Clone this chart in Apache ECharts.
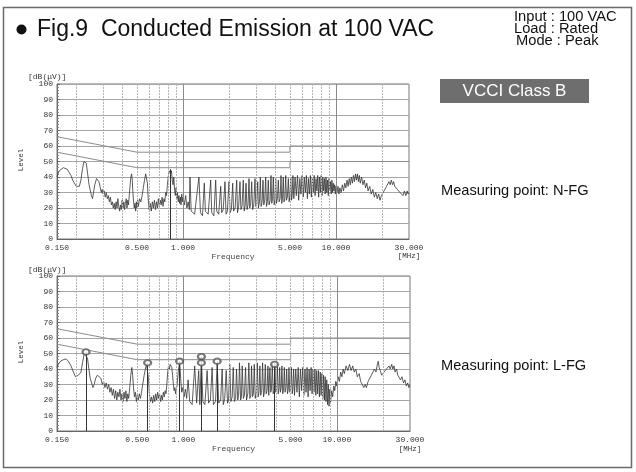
<!DOCTYPE html>
<html><head><meta charset="utf-8">
<script src="https://cdn.jsdelivr.net/npm/echarts@6/dist/echarts.min.js"></script>
<style>html,body{margin:0;padding:0;background:#fff}#c{width:636px;height:472px}</style>
</head><body><div id="c"></div><script>
// ---- data ----
const gridFreqs = [0.2,0.3,0.4,0.5,0.6,0.7,0.8,0.9,1,2,3,4,5,6,7,8,9,10,20];
const majorFreqs = [1,10];
const tickFreqs = [0.15,0.5,1,5,10,30];
const tickLabels = ['0.150','0.500','1.000','5.000','10.000','30.000'];
const qpLimit = [[0.15,66],[0.5,56],[5,56],[5,60],[30,60]];
const avLimit = [[0.15,56],[0.5,46],[5,46],[5,50],[30,50]];

const nfgTrace = [
[0.150,40],[0.152,42],[0.155,44],[0.160,45],[0.165,46],[0.170,46],[0.175,45],[0.180,43],[0.185,41],[0.190,38],[0.195,36],[0.200,34],[0.205,33],[0.210,34],[0.215,38],[0.220,45],[0.225,50],[0.229,51],[0.233,49],[0.238,42],[0.243,35],[0.248,31],[0.252,28],[0.256,26],[0.260,30],[0.265,35],[0.272,39],[0.277,40],[0.282,37],[0.288,33],[0.292,30],[0.296,32],[0.300,29],[0.305,31],[0.310,27],[0.315,30],[0.320,26],[0.325,28],[0.330,24],[0.335,27],[0.340,22],[0.345,24],[0.350,20],[0.355,23],[0.360,19],[0.365,24],[0.370,20],[0.375,26],[0.380,21],[0.385,18],[0.390,22],[0.395,19],[0.400,25],[0.405,20],[0.410,24],[0.415,19],[0.420,23],[0.425,26],[0.430,20],[0.435,25],[0.440,22],[0.445,28],[0.450,34],[0.456,40],[0.461,42],[0.466,38],[0.470,30],[0.475,24],[0.480,20],[0.485,23],[0.490,18],[0.495,24],[0.500,20],[0.505,25],[0.510,21],[0.520,26],[0.530,24],[0.540,28],[0.550,33],[0.560,38],[0.570,42],[0.578,43],[0.585,36],[0.592,26],[0.600,19],[0.610,23],[0.620,18],[0.630,24],[0.640,20],[0.650,25],[0.660,19],[0.670,24],[0.680,20],[0.690,26],[0.700,21],[0.710,25],[0.720,22],[0.730,27],[0.740,21],[0.750,26],[0.760,24],[0.770,30],[0.780,28],[0.790,35],[0.800,40],[0.810,44],[0.820,45],[0.830,42],[0.840,44],[0.850,38],[0.860,35],[0.870,40],[0.880,32],[0.890,28],[0.900,33],[0.910,26],[0.920,30],[0.930,24],[0.940,28],[0.950,23],[0.960,27],[0.970,22],[0.980,29],[0.990,24],[1.000,27],[1.020,22],[1.040,28],[1.060,20],[1.080,24],
[1.10,19],[1.11,40],[1.13,18],[1.19,16],[1.27,40],[1.30,17],[1.34,15],[1.377,36],[1.40,18],[1.46,16],[1.516,38],[1.54,17],[1.59,15],[1.635,38],[1.66,18],[1.71,16],[1.763,34],[1.79,17],[1.83,19],[1.881,37],[1.91,16],[1.95,18],[1.997,37],[2.03,17],[2.07,19],[2.112,36],[2.14,18],[2.19,20],[2.243,38],[2.27,17],[2.31,21],[2.357,37],[2.39,19],[2.43,21],[2.477,38],[2.51,18],[2.55,22],[2.58,36],[2.62,19],[2.66,22],[2.699,39],[2.73,20],[2.77,23],[2.811,37],[2.85,19],[2.90,22],[2.954,39],[2.99,21],[3.03,23],[3.077,37],[3.11,20],[3.16,24],[3.20,40],[3.24,21],[3.29,24],[3.332,38],[3.37,22],[3.42,25],[3.47,40],[3.51,21],[3.56,24],[3.609,38],[3.65,22],[3.71,25],[3.758,41],[3.80,23],[3.85,26],[3.89,40],[3.94,22],[3.99,25],[4.034,39],[4.08,23],[4.14,26],[4.196,38],[4.25,24],[4.31,26],[4.37,41],[4.42,23],[4.47,27],[4.52,40],[4.57,24],[4.63,26],[4.69,41],[4.74,25],[4.81,27],[4.88,39],[4.94,24],[5.00,28],[5.06,40],[5.12,25],[5.17,28],[5.23,41],[5.30,26],
[5.40,40],[5.50,28],[5.60,41],[5.70,25],[5.80,39],[5.90,29],[6.00,41],[6.10,27],[6.20,40],[6.30,30],[6.40,41],[6.50,26],[6.60,39],[6.70,29],[6.80,41],[6.90,27],[7.00,40],[7.10,30],[7.20,41],[7.30,28],[7.40,39],[7.50,31],[7.60,41],[7.70,27],[7.80,40],[7.90,30],[8.00,41],[8.10,28],[8.20,40],[8.30,31],[8.40,39],[8.50,29],[8.60,40],[8.70,30],[8.80,38],[8.90,28],[9.00,39],[9.10,31],[9.20,37],[9.30,29],[9.40,38],[9.50,30],[9.60,36],[9.70,31],[9.80,35],[9.90,29],[10.0,34],
[10.15,30],[10.3,34],[10.45,29],[10.6,33],[10.8,30],[11.0,35],[11.2,31],[11.4,36],[11.6,33],[11.8,38],[12.0,34],[12.2,39],[12.4,35],[12.6,40],[12.8,36],[13.0,41],[13.2,37],[13.4,42],[13.6,38],[13.8,42],[14.0,37],[14.2,41],[14.4,36],[14.7,40],[15.0,35],[15.3,38],[15.6,33],[15.9,36],[16.2,31],[16.6,34],[17.0,29],[17.4,32],[17.8,27],[18.2,30],[18.6,26],[19.0,29],[19.4,25],[19.8,28],[20.2,27],[20.6,31],[21.0,30],[21.4,34],[21.8,33],[22.2,37],[22.6,35],[23.0,38],[23.4,35],[23.8,37],[24.2,34],[24.7,35],[25.2,32],[25.7,33],[26.2,30],[26.8,31],[27.4,28],[28.0,31],[28.6,28],[29.2,31],[29.6,29],[30.0,30]
];

const lfgTrace = [
[0.150,41],[0.153,43],[0.158,45],[0.165,46],[0.172,46.5],[0.178,45],[0.185,42],[0.192,38],[0.198,35],[0.203,34],[0.207,36],[0.211,35],[0.215,38],[0.220,44],[0.226,50],[0.232,51],[0.237,47],[0.242,40],[0.247,34],[0.252,31],[0.257,28],[0.262,30],[0.268,34],[0.275,36],[0.283,37],[0.290,34],[0.296,30],[0.302,32],[0.308,28],[0.314,31],[0.320,27],[0.326,30],[0.332,25],[0.338,28],[0.344,23],[0.350,27],[0.356,21],[0.362,26],[0.368,20],[0.374,25],[0.380,22],[0.386,27],[0.392,20],[0.398,24],[0.404,19],[0.410,25],[0.416,21],[0.422,26],[0.428,19],[0.434,24],[0.440,21],[0.447,28],[0.454,36],[0.461,41],[0.467,36],[0.473,28],[0.480,22],[0.487,25],[0.494,19],[0.500,23],[0.508,20],[0.516,24],[0.525,21],[0.535,26],[0.545,31],[0.555,36],[0.565,40],[0.575,43],[0.585,44],[0.592,34],[0.600,24],[0.610,19],[0.620,22],[0.630,18],[0.640,23],[0.650,19],[0.660,24],[0.670,20],[0.680,25],[0.690,21],[0.700,24],[0.710,19],[0.720,23],[0.730,20],[0.740,25],[0.750,22],[0.760,26],[0.770,24],[0.780,30],[0.790,38],[0.800,42],[0.810,40],[0.820,43],[0.830,44],[0.840,41],[0.850,36],[0.860,30],[0.870,26],[0.880,28],[0.890,24],[0.900,27],[0.910,30],[0.925,38],[0.945,45],[0.960,34],[0.975,25],[0.990,28],[1.010,22],[1.030,27],[1.050,21],
[1.073,33],[1.10,19],[1.14,17],[1.185,42],[1.22,18],[1.258,39],[1.28,17],[1.310,48],[1.34,19],[1.38,17],[1.428,39],[1.46,18],[1.50,20],[1.539,41],[1.57,17],[1.62,19],[1.66,44],[1.70,18],[1.75,20],[1.789,40],[1.82,17],[1.86,21],[1.901,39],[1.94,18],[1.97,20],[2.006,43],[2.04,19],[2.08,22],[2.112,41],[2.15,19],[2.19,21],[2.219,40],[2.26,20],[2.29,23],[2.322,44],[2.36,20],[2.39,22],[2.418,42],[2.46,21],[2.50,23],[2.542,41],[2.58,20],[2.63,24],[2.671,44],[2.71,21],[2.75,23],[2.782,42],[2.82,22],[2.86,24],[2.897,43],[2.94,21],[2.99,25],[3.03,44],[3.07,22],[3.11,25],[3.151,42],[3.19,23],[3.24,26],[3.283,44],[3.33,22],[3.37,25],[3.419,43],[3.46,24],[3.51,26],[3.555,42],[3.60,23],[3.664,41],[3.71,25],[3.75,27],[3.798,43],[3.85,24],[3.90,26],[3.95,44],[4.00,25],[4.05,27],[4.097,42],[4.15,24],[4.20,27],[4.241,41],[4.29,25],[4.34,28],[4.389,42],[4.44,24],[4.50,27],[4.55,41],[4.60,25],[4.66,28],[4.711,40],[4.77,24],[4.83,27],[4.876,41],[4.94,25],[5.00,28],[5.056,41],[5.12,24],[5.17,27],[5.23,40],[5.30,23],
[5.40,40],[5.50,25],[5.60,41],[5.70,22],[5.80,40],[5.90,26],[6.00,41],[6.10,23],[6.20,40],[6.30,25],[6.40,41],[6.50,22],[6.60,40],[6.70,26],[6.80,41],[6.90,24],[7.00,40],[7.10,25],[7.20,40],[7.30,23],[7.40,39],[7.50,24],[7.60,39],[7.70,22],[7.80,38],[7.90,23],[8.00,37],[8.10,21],[8.20,36],[8.30,20],[8.40,35],[8.50,19],[8.60,33],[8.70,17],[8.80,30],[8.90,16],[9.00,27],[9.10,18],[9.25,26],[9.40,22],[9.55,29],[9.70,26],[9.85,32],[10.0,29],
[10.2,35],[10.4,32],[10.6,38],[10.8,35],[11.0,40],[11.2,37],[11.5,42],[11.8,39],[12.1,43],[12.4,39],[12.7,42],[13.0,38],[13.3,40],[13.6,35],[14.0,37],[14.3,32],[14.6,33],[15.0,28],[15.3,30],[15.6,28],[16.0,32],[16.4,31],[16.8,36],[17.2,35],[17.6,40],[18.0,38],[18.3,42],[18.6,45],[18.9,41],[19.2,39],[19.6,36],[19.9,35],[20.3,38],[20.7,37],[21.1,40],[21.5,39],[21.9,42],[22.3,40],[22.8,43],[23.2,40],[23.6,42],[24.0,38],[24.5,40],[25.0,36],[25.5,37],[26.0,33],[26.6,35],[27.2,31],[27.8,33],[28.4,29],[29.0,31],[29.5,28],[30.0,30]
];

const lfgMarkerFreq = [0.232,0.585,0.945,1.31,1.31,1.66,3.93];
const lfgMarkerLevel = [51,44,45,48,44,45,43];
const nfgMarkerFreq = [0.825];
const nfgMarkerLevel = [45];

// ---- chart ----
const mono = 'Liberation Mono';
const chart = echarts.init(document.getElementById('c'), null, {renderer:'canvas'});

function gridLineMarks() {
  return {
    silent:true, symbol:['none','none'], label:{show:false},
    lineStyle:{color:'#b4b4b4', type:[2,1], width:1},
    emphasis:{disabled:true},
    data: gridFreqs.map(f => majorFreqs.includes(f)
      ? {xAxis:f, lineStyle:{color:'#8a8a8a', type:'solid', width:1}}
      : {xAxis:f})
  };
}
function tickLabelMarks() {
  return {
    silent:true, symbol:['none','none'],
    lineStyle:{color:'rgba(0,0,0,0)', width:0},
    emphasis:{disabled:true},
    label:{show:true, position:'start', distance:5, formatter:'{b}', opacity:1,
      fontFamily:mono, fontSize:8, color:'#333'},
    data: tickFreqs.map((f,i) => ({xAxis:f, name:tickLabels[i]}))
  };
}
function markerLines(freqs, levels) {
  return {
    silent:true, symbol:['none','none'], label:{show:false},
    lineStyle:{color:'#333', type:'solid', width:1},
    emphasis:{disabled:true},
    data: freqs.map((f,i) => [{coord:[f,0]},{coord:[f,levels[i]]}])
  };
}

const grids = [
  {left:57, top:84, width:352, height:155},
  {left:57, top:276, width:353, height:155}
];
const traces = [nfgTrace, lfgTrace];

const series = [];
[0,1].forEach(i => {
  series.push({type:'line', xAxisIndex:i, yAxisIndex:i, data:qpLimit, symbol:'none',
    lineStyle:{color:'#8c8c8c', width:1}, silent:true, z:2, markLine:gridLineMarks()});
  series.push({type:'line', xAxisIndex:i, yAxisIndex:i, data:avLimit, symbol:'none',
    lineStyle:{color:'#8c8c8c', width:1}, silent:true, z:2, markLine:tickLabelMarks()});
  series.push({type:'line', xAxisIndex:i, yAxisIndex:i, data:traces[i], symbol:'none',
    lineStyle:{color:'#333', width:0.8}, silent:true, z:3});
});
series.push({type:'scatter', xAxisIndex:1, yAxisIndex:1, symbol:'emptyCircle', symbolSize:[7,5.5],
  data: lfgMarkerFreq.map((f,i)=>[f, lfgMarkerLevel[i]]),
  itemStyle:{color:'#555', borderWidth:0.8}, z:5,
  markLine: markerLines(lfgMarkerFreq, lfgMarkerLevel)});
series.push({type:'line', xAxisIndex:0, yAxisIndex:0, symbol:'none', data:[], z:4, silent:true,
  markLine: markerLines(nfgMarkerFreq, nfgMarkerLevel)});

const txt = (x,y,text,style,extra) => Object.assign({type:'text', x, y, silent:true,
  style:Object.assign({text, fill:'#111', fontFamily:'Liberation Sans'}, style)}, extra||{});

const graphic = [
  {type:'rect', shape:{x:3.5, y:7.5, width:628, height:460}, style:{fill:'none', stroke:'#6a6a6a', lineWidth:1.5}, silent:true},
  {type:'circle', shape:{cx:21.5, cy:29.5, r:5}, style:{fill:'#111'}, silent:true},
  txt(37, 18, 'Fig.9  Conducted Emission at 100 VAC', {fontSize:23, verticalAlign:'top'}),
  txt(514, 10, 'Input : 100 VAC', {fontSize:14, verticalAlign:'top'}, {scaleX:1.05}),
  txt(514, 22, 'Load : Rated', {fontSize:14, verticalAlign:'top'}, {scaleX:1.05}),
  txt(516, 34, 'Mode : Peak', {fontSize:14, verticalAlign:'top'}, {scaleX:1.05}),
  {type:'rect', shape:{x:440, y:79, width:149, height:24}, style:{fill:'#6e6e6e'}, silent:true},
  txt(514.5, 91, 'VCCI Class B', {fontSize:17, fill:'#fff', align:'center', verticalAlign:'middle'}),
  txt(441, 191, 'Measuring point: N-FG', {fontSize:14.6, verticalAlign:'middle'}),
  txt(441, 366, 'Measuring point: L-FG', {fontSize:14.6, verticalAlign:'middle'}),
  txt(28, 77, '[dB(μV)]', {fontSize:8, fontFamily:mono, fill:'#333', verticalAlign:'middle'}),
  txt(28, 270, '[dB(μV)]', {fontSize:8, fontFamily:mono, fill:'#333', verticalAlign:'middle'}),
  txt(21, 160, 'Level', {fontSize:7.5, fontFamily:mono, fill:'#333', align:'center', verticalAlign:'middle'}, {rotation:Math.PI/2}),
  txt(21, 352, 'Level', {fontSize:7.5, fontFamily:mono, fill:'#333', align:'center', verticalAlign:'middle'}, {rotation:Math.PI/2}),
  txt(409, 256, '[MHz]', {fontSize:7.5, fontFamily:mono, fill:'#333', align:'center', verticalAlign:'middle'}),
  txt(410, 449, '[MHz]', {fontSize:7.5, fontFamily:mono, fill:'#333', align:'center', verticalAlign:'middle'})
];

chart.setOption({
  animation:false,
  backgroundColor:'#fff',
  grid: grids.map(g => Object.assign({show:true, borderColor:'#777', borderWidth:1, backgroundColor:'transparent'}, g)),
  xAxis: [0,1].map(i => ({
    type:'log', logBase:10, gridIndex:i, min:0.15, max:30,
    axisLabel:{show:false}, axisTick:{show:false}, splitLine:{show:false}, minorSplitLine:{show:false},
    axisLine:{show:true, lineStyle:{color:'#666', width:1}},
    name:'Frequency', nameLocation:'middle', nameGap:14,
    nameTextStyle:{fontFamily:mono, fontSize:8, color:'#444'}
  })),
  yAxis: [0,1].map(i => ({
    type:'value', gridIndex:i, min:0, max:100, interval:10,
    axisLine:{show:true, lineStyle:{color:'#666', width:1}},
    axisTick:{show:true, inside:true, length:3, lineStyle:{color:'#666'}},
    minorTick:{show:true, splitNumber:5, length:2, lineStyle:{color:'#888'}},
    axisLabel:{fontFamily:mono, fontSize:8, color:'#333', margin:4},
    splitLine:{show:true, lineStyle:{color:'#a6a6a6', width:1}}
  })),
  series,
  graphic
});
</script></body></html>
